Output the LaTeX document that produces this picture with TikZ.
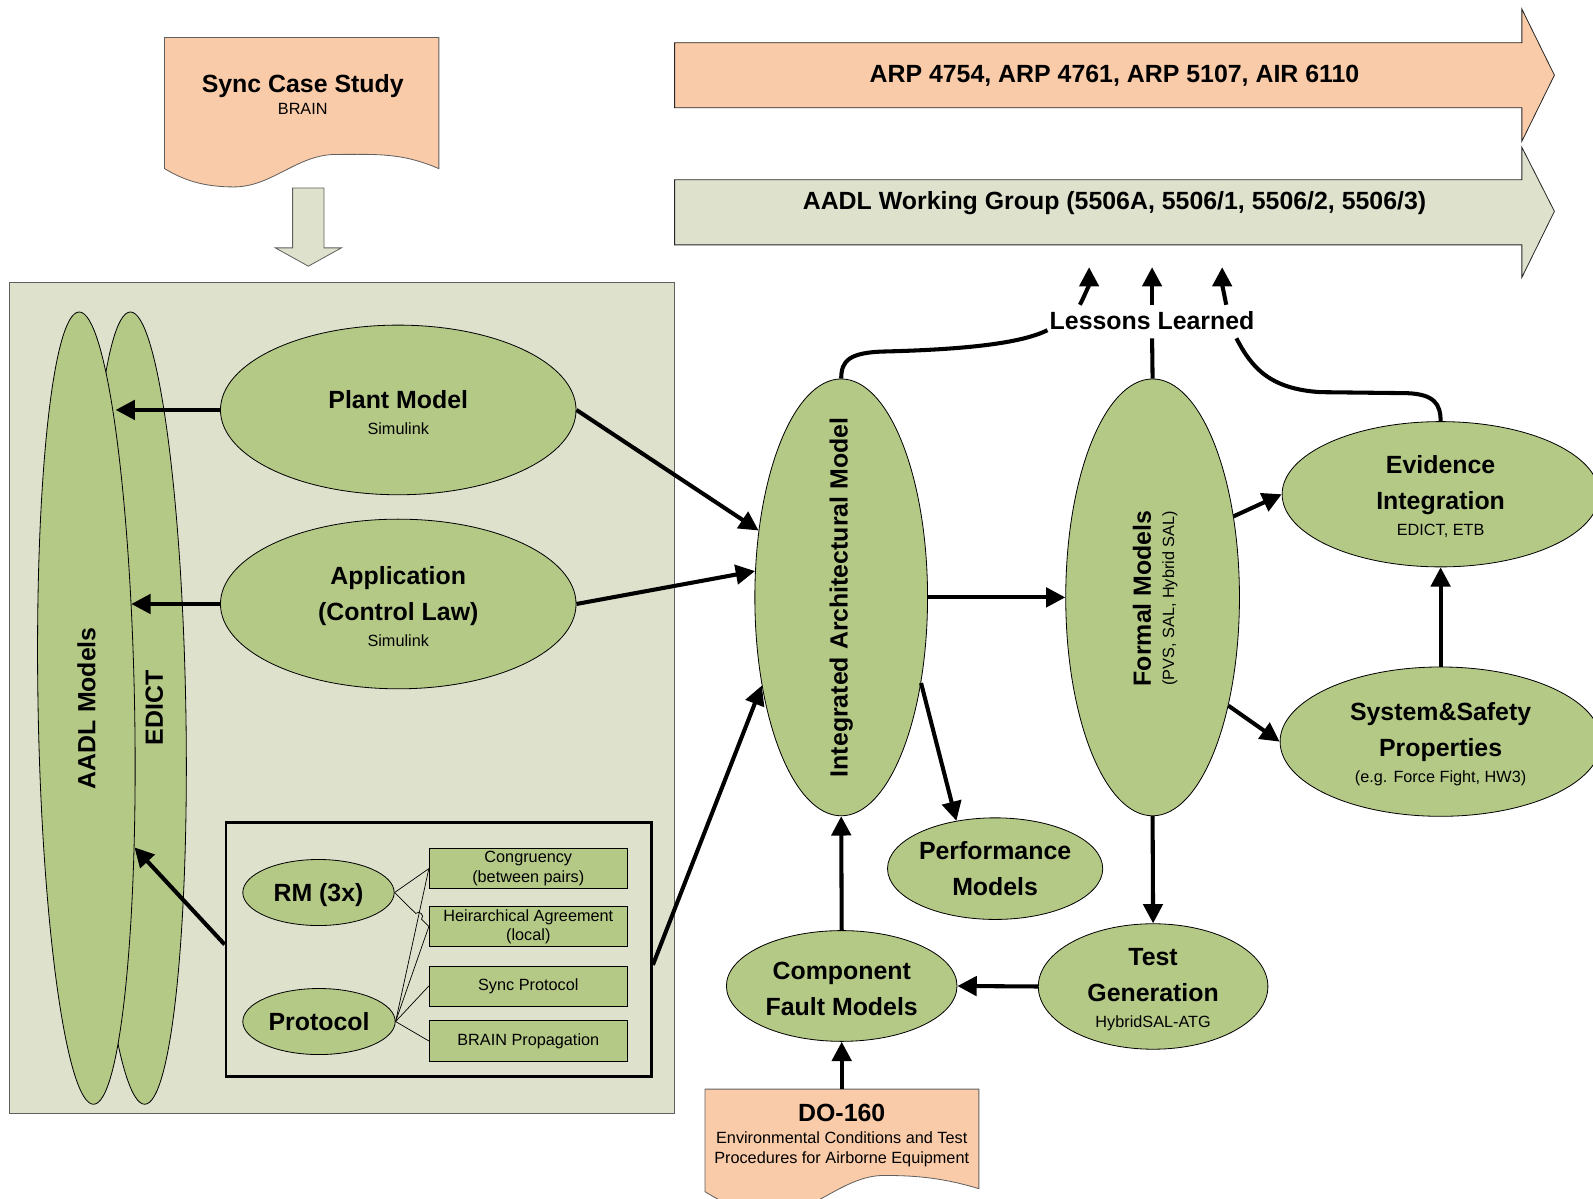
\documentclass[tikz,border=0pt]{standalone}
\usepackage{fontspec}
\setmainfont{Liberation Sans}
\usetikzlibrary{shapes.geometric,arrows.meta,calc}

\definecolor{peach}{RGB}{250,203,168}
\definecolor{egreen}{RGB}{181,201,135}
\definecolor{panel}{RGB}{222,226,205}
\definecolor{edgegray}{RGB}{95,95,95}

\newcommand{\subtxt}[1]{{\fontsize{16}{19}\selectfont\mdseries #1}}
\newcommand{\tallrow}{\rule{0pt}{23pt}}

\tikzset{
  big/.style={font=\fontsize{24.5}{35}\selectfont\bfseries, align=center, inner sep=0pt},
  ell/.style={ellipse, draw=black, line width=0.8pt, fill=egreen, inner sep=-40pt, big},
  vell/.style={ellipse, draw=black, line width=0.8pt, fill=egreen, inner sep=0pt},
  tag/.style={rectangle, draw=black, line width=0.8pt, fill=egreen, minimum width=195pt,
              minimum height=39.5pt, inner sep=0pt, align=center, font=\fontsize{16}{19}\selectfont},
  flow/.style={line width=4pt, -{Triangle[length=19pt,width=19pt]}},
  link/.style={line width=4pt},
  hair/.style={line width=0.7pt},
  docshape/.style={fill=peach, draw=edgegray, line width=0.8pt},
  bigarrow/.style={draw=black!85, line width=0.8pt}
}

\begin{document}
\begin{tikzpicture}[x=1pt,y=-1pt]
\useasboundingbox (0,0) rectangle (1568,1180);
\clip (0,0) rectangle (1568,1180);

% ---- standards arrows ----
\filldraw[bigarrow, fill=peach] (664,42) -- (1498,42) -- (1498,9) -- (1530,74) -- (1498,139) -- (1498,106) -- (664,106) -- cycle;
\node[big] (arp) at (1097,74.5) {ARP 4754, ARP 4761, ARP 5107, AIR 6110};
\filldraw[bigarrow, fill=panel] (664,177) -- (1498,177) -- (1498,145) -- (1530,208) -- (1498,273) -- (1498,241) -- (664,241) -- cycle;
\node[big] (wg) at (1097,200) {AADL Working Group (5506A, 5506/1, 5506/2, 5506/3)};

% ---- case study document and hollow arrow ----
\filldraw[docshape] (162,37) -- (432,37) -- (432,166)
  .. controls (395,150) and (370,152) .. (331,152)
  .. controls (292,152) and (268,184) .. (230,184)
  .. controls (200,184) and (180,177) .. (162,166) -- cycle;
\node[big] (sync) at (298,93) {Sync Case Study\\[-13pt]\subtxt{BRAIN}};
\filldraw[fill=panel, draw=edgegray, line width=0.8pt] (288,185) -- (319,185) -- (319,244) -- (336,244)
  -- (303.5,262) -- (271,244) -- (288,244) -- cycle;

% ---- left panel ----
\filldraw[fill=panel, draw=edgegray, line width=1pt] (9.5,278) rectangle (664,1096);
\node[vell, minimum width=95pt, minimum height=780pt, rotate=1.05] (edict) at (135.4,697) {};
\node[vell, minimum width=95pt, minimum height=780pt, rotate=1.05] (aadl) at (85,697) {};
\node[big, rotate=90] (aadllbl) at (85,697) {AADL Models};
\node[big, rotate=90] (edictlbl) at (152,697) {EDICT};

\node[ell, minimum width=350pt, minimum height=167pt] (plant) at (392,403.5) {\tallrow Plant Model\\[-9pt]\subtxt{Simulink}};
\node[ell, minimum width=350pt, minimum height=167pt] (app) at (392,594.5) {\tallrow Application\\(Control Law)\\[-9pt]\subtxt{Simulink}};

\node[draw=black, line width=2.5pt, minimum width=419pt, minimum height=250pt, inner sep=0pt] (grp) at (431.9,934.7) {};
\node[ell, minimum width=149pt, minimum height=65pt] (rm) at (313.5,878.5) {\tallrow RM (3x)};
\node[ell, minimum width=150pt, minimum height=65pt] (proto) at (314,1005.5) {Protocol};
\node[tag] (cong) at (520,855) {Congruency\\(between pairs)};
\node[tag] (heir) at (520,912) {Heirarchical Agreement\\(local)};
\node[tag] (syncp) at (520,970.5) {Sync Protocol};
\node[tag] (brain) at (520,1024.6) {BRAIN Propagation};

% thin links, one of them hopping over a crossing line
\coordinate (hopa) at (409.2,899.1);
\coordinate (hopb) at (414.9,904.7);
\draw[hair] (rm.east) -- (cong.west);
\draw[hair] (rm.east) -- (hopa) .. controls (412.7,895.5) and (418.4,901.1) .. (hopb) -- (heir.west);
\draw[hair] (proto.east) -- (cong.west);
\draw[hair] (proto.east) -- (heir.west);
\draw[hair] (proto.east) -- (syncp.west);
\draw[hair] (proto.east) -- (brain.west);

% ---- right side models ----
\node[vell, minimum width=170pt, minimum height=430pt] (iam) at (828,588) {};
\node[big, rotate=90] (iamlbl) at (828,588) {Integrated Architectural Model};
\node[vell, minimum width=171pt, minimum height=430pt] (formal) at (1134.5,588) {};
\node[big, rotate=90] (formallbl) at (1137,589) {Formal Models\\[-12pt]\subtxt{(PVS, SAL, Hybrid SAL)}};

\node[ell, minimum width=312pt, minimum height=143pt] (evi) at (1418,486.5) {\tallrow Evidence\\Integration\\[-9pt]\subtxt{EDICT, ETB}};
\node[ell, minimum width=316pt, minimum height=147pt] (sys) at (1418,730) {\tallrow System\&Safety\\Properties\\[-9pt]\subtxt{(e.g. Force Fight, HW3)}};
\node[ell, minimum width=205pt, minimum height=100pt] (perf) at (979.5,855) {Performance\\Models};
\node[ell, minimum width=227pt, minimum height=109pt] (cfm) at (828.5,970.5) {\tallrow Component\\Fault Models};
\node[ell, minimum width=226pt, minimum height=106pt] (test) at (1135,971) {\tallrow Test\\Generation\\[-9pt]\subtxt{HybridSAL-ATG}};

% ---- DO-160 document ----
\filldraw[docshape] (694,1072) -- (963.5,1072) -- (963.5,1170)
  .. controls (930,1160) and (905,1157) .. (870,1157)
  .. controls (830,1157) and (800,1195) .. (762,1195)
  .. controls (732,1195) and (712,1184) .. (694,1173) -- cycle;
\coordinate (dotop) at (828.5,1072);
\node[big] (dotxt) at (828.5,1117.5) {DO-160\\[-13pt]\subtxt{Environmental Conditions and Test}\\[-15pt]\subtxt{Procedures for Airborne Equipment}};

% ---- lessons learned ----
\node[big] (lessons) at (1134,316) {Lessons Learned};
\coordinate (lla) at ($(lessons.center)+(-103,9)$);
\coordinate (llb) at ($(lessons.center)+(0,17)$);
\coordinate (llc) at ($(lessons.center)+(83,17)$);
\coordinate (lua) at ($(lessons.center)+(-71,-16)$);
\coordinate (lub) at ($(lessons.center)+(0,-16)$);
\coordinate (luc) at ($(lessons.center)+(73,-16)$);
\coordinate (tipa) at (1072,263);
\coordinate (tipb) at (1134,263);
\coordinate (tipc) at (1203,263);

\draw[link] (iam.north) .. controls (828,355) and (836,347) .. (870,346)
  .. controls (950,344) and (1005,338) .. (lla);
\draw[link] (formal.north) -- (llb);
\draw[link] (evi.north) .. controls (1418,398) and (1412,388) .. (1385,387)
  -- (1300,386) .. controls (1250,383) and (1232,362) .. (llc);
\draw[flow] (lua) .. controls (1068,290) and (1072,280) .. (tipa);
\draw[flow] (lub) -- (tipb);
\draw[flow] (luc) .. controls (1205,290) and (1203,280) .. (tipc);

% ---- connectors ----
\draw[flow] (plant.west) -- (plant.west -| aadl.83);
\draw[flow] (app.west) -- (app.west -| aadl.66);
\draw[flow] ([yshift=5pt]grp.west) -- (aadl.-72);
\draw[flow] (plant.east) -- (iam.141.5);
\draw[flow] (app.east) -- (iam.163.5);
\draw[flow] ([yshift=-15pt]grp.east) -- (iam.228.6);
\draw[flow] (iam.east) -- (formal.west);
\draw[flow] (iam.-47) -- (perf.129);
\draw[flow] (cfm.north) -- (iam.south);
\draw[flow] (formal.south) -- (test.north);
\draw[flow] (test.west) -- (cfm.east);
\draw[flow] (dotop) -- (cfm.south);
\draw[flow] (formal.45.2) -- (evi.west);
\draw[flow] (formal.-55.3) -- (sys.west);
\draw[flow] (sys.north) -- (evi.south);
\end{tikzpicture}
\end{document}
